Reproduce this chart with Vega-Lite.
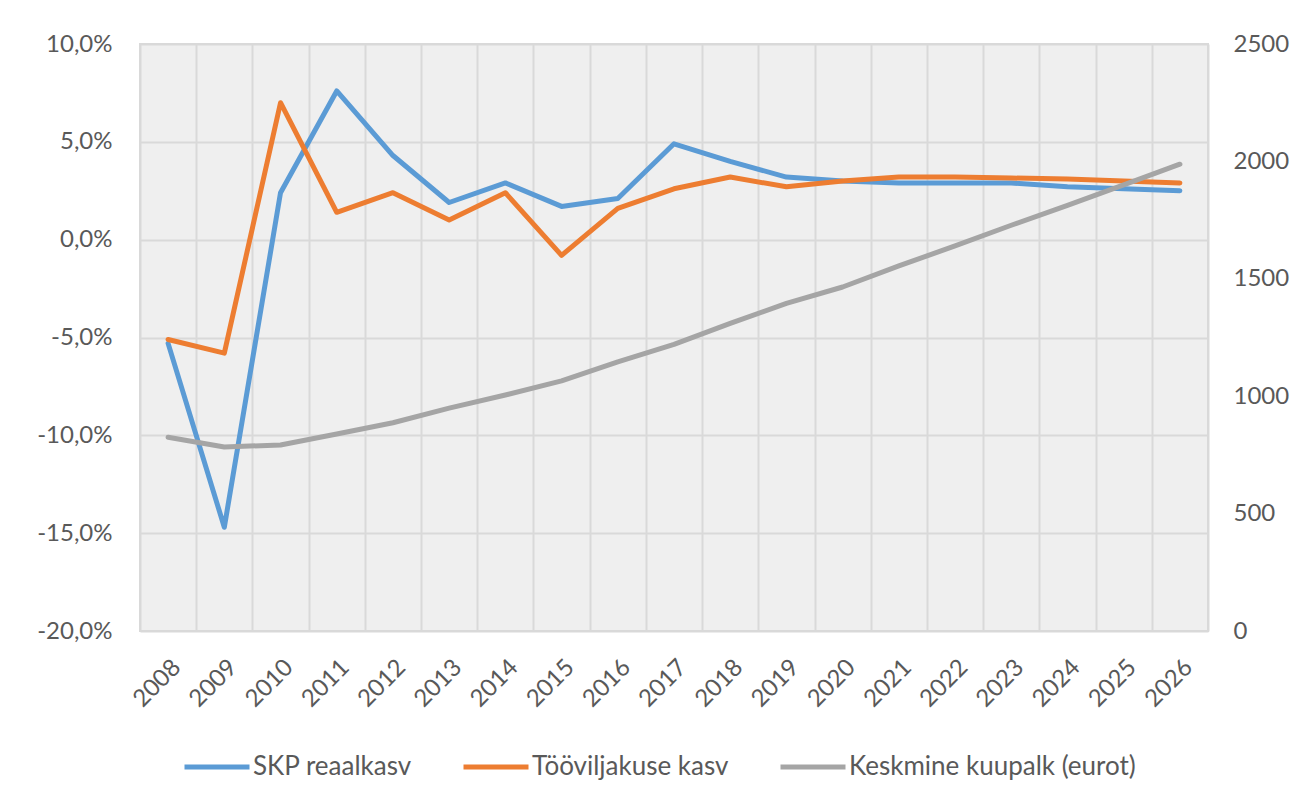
{
  "$schema": "https://vega.github.io/schema/vega-lite/v6.json",
  "width": 1068,
  "height": 587,
  "autosize": {"type": "none"},
  "padding": {"left": 140, "top": 44, "right": 89, "bottom": 173},
  "background": "white",
  "config": {
    "font": "Lato",
    "view": {"stroke": "#d9d9d9", "strokeWidth": 2, "fill": "#efefef"},
    "axis": {
      "labelFont": "Lato",
      "labelFontSize": 24,
      "labelColor": "#595959",
      "ticks": false,
      "domain": false,
      "gridColor": "#d9d9d9",
      "gridWidth": 2,
      "title": null
    }
  },
  "data": {
    "values": [
      {"year": "2008", "series": "SKP reaalkasv", "value": -5.3},
      {"year": "2009", "series": "SKP reaalkasv", "value": -14.7},
      {"year": "2010", "series": "SKP reaalkasv", "value": 2.4},
      {"year": "2011", "series": "SKP reaalkasv", "value": 7.6},
      {"year": "2012", "series": "SKP reaalkasv", "value": 4.3},
      {"year": "2013", "series": "SKP reaalkasv", "value": 1.9},
      {"year": "2014", "series": "SKP reaalkasv", "value": 2.9},
      {"year": "2015", "series": "SKP reaalkasv", "value": 1.7},
      {"year": "2016", "series": "SKP reaalkasv", "value": 2.1},
      {"year": "2017", "series": "SKP reaalkasv", "value": 4.9},
      {"year": "2018", "series": "SKP reaalkasv", "value": 4.0},
      {"year": "2019", "series": "SKP reaalkasv", "value": 3.2},
      {"year": "2020", "series": "SKP reaalkasv", "value": 3.0},
      {"year": "2021", "series": "SKP reaalkasv", "value": 2.9},
      {"year": "2022", "series": "SKP reaalkasv", "value": 2.9},
      {"year": "2023", "series": "SKP reaalkasv", "value": 2.9},
      {"year": "2024", "series": "SKP reaalkasv", "value": 2.7},
      {"year": "2025", "series": "SKP reaalkasv", "value": 2.6},
      {"year": "2026", "series": "SKP reaalkasv", "value": 2.5},
      {"year": "2008", "series": "Tööviljakuse kasv", "value": -5.1},
      {"year": "2009", "series": "Tööviljakuse kasv", "value": -5.8},
      {"year": "2010", "series": "Tööviljakuse kasv", "value": 7.0},
      {"year": "2011", "series": "Tööviljakuse kasv", "value": 1.4},
      {"year": "2012", "series": "Tööviljakuse kasv", "value": 2.4},
      {"year": "2013", "series": "Tööviljakuse kasv", "value": 1.0},
      {"year": "2014", "series": "Tööviljakuse kasv", "value": 2.4},
      {"year": "2015", "series": "Tööviljakuse kasv", "value": -0.8},
      {"year": "2016", "series": "Tööviljakuse kasv", "value": 1.6},
      {"year": "2017", "series": "Tööviljakuse kasv", "value": 2.6},
      {"year": "2018", "series": "Tööviljakuse kasv", "value": 3.2},
      {"year": "2019", "series": "Tööviljakuse kasv", "value": 2.7},
      {"year": "2020", "series": "Tööviljakuse kasv", "value": 3.0},
      {"year": "2021", "series": "Tööviljakuse kasv", "value": 3.2},
      {"year": "2022", "series": "Tööviljakuse kasv", "value": 3.2},
      {"year": "2023", "series": "Tööviljakuse kasv", "value": 3.15},
      {"year": "2024", "series": "Tööviljakuse kasv", "value": 3.1},
      {"year": "2025", "series": "Tööviljakuse kasv", "value": 3.0},
      {"year": "2026", "series": "Tööviljakuse kasv", "value": 2.9},
      {"year": "2008", "series": "Keskmine kuupalk (eurot)", "value": 825},
      {"year": "2009", "series": "Keskmine kuupalk (eurot)", "value": 784},
      {"year": "2010", "series": "Keskmine kuupalk (eurot)", "value": 792},
      {"year": "2011", "series": "Keskmine kuupalk (eurot)", "value": 839},
      {"year": "2012", "series": "Keskmine kuupalk (eurot)", "value": 887},
      {"year": "2013", "series": "Keskmine kuupalk (eurot)", "value": 949},
      {"year": "2014", "series": "Keskmine kuupalk (eurot)", "value": 1005},
      {"year": "2015", "series": "Keskmine kuupalk (eurot)", "value": 1065},
      {"year": "2016", "series": "Keskmine kuupalk (eurot)", "value": 1146},
      {"year": "2017", "series": "Keskmine kuupalk (eurot)", "value": 1221},
      {"year": "2018", "series": "Keskmine kuupalk (eurot)", "value": 1310},
      {"year": "2019", "series": "Keskmine kuupalk (eurot)", "value": 1395},
      {"year": "2020", "series": "Keskmine kuupalk (eurot)", "value": 1465},
      {"year": "2021", "series": "Keskmine kuupalk (eurot)", "value": 1555},
      {"year": "2022", "series": "Keskmine kuupalk (eurot)", "value": 1640},
      {"year": "2023", "series": "Keskmine kuupalk (eurot)", "value": 1728},
      {"year": "2024", "series": "Keskmine kuupalk (eurot)", "value": 1813},
      {"year": "2025", "series": "Keskmine kuupalk (eurot)", "value": 1900},
      {"year": "2026", "series": "Keskmine kuupalk (eurot)", "value": 1988}
    ]
  },
  "encoding": {
    "x": {
      "field": "year",
      "type": "ordinal",
      "bandPosition": 0.5,
      "scale": {"type": "band", "paddingInner": 0, "paddingOuter": 0},
      "axis": {"tickBand": "extent", "grid": true, "labelAngle": -45, "labelPadding": 24, "title": null}
    },
    "color": {
      "field": "series",
      "type": "nominal",
      "scale": {
        "domain": ["SKP reaalkasv", "Tööviljakuse kasv", "Keskmine kuupalk (eurot)"],
        "range": ["#5b9bd5", "#ed7d31", "#a5a5a5"]
      },
      "legend": {
        "orient": "none",
        "legendX": 42,
        "legendY": 688,
        "direction": "horizontal",
        "title": null,
        "symbolType": "stroke",
        "symbolSize": 4225,
        "symbolStrokeWidth": 5,
        "labelFont": "Lato",
        "labelFontSize": 26,
        "labelColor": "#595959",
        "labelLimit": 0,
        "labelOffset": 1,
        "columnPadding": 41
      }
    }
  },
  "layer": [
    {
      "encoding": {
        "y": {
          "field": "value",
          "type": "quantitative",
          "scale": {"domain": [-20, 10], "nice": false, "zero": false},
          "axis": {
            "orient": "left",
            "values": [-20, -15, -10, -5, 0, 5, 10],
            "grid": true,
            "labelPadding": 28,
            "labelExpr": "replace(replace(format(datum.value, '.1f'), '.', ','), '−', '-') + '%'"
          }
        }
      },
      "layer": [
        {
          "transform": [{"filter": "datum.series === 'SKP reaalkasv'"}],
          "mark": {"type": "line", "strokeWidth": 5, "strokeCap": "round", "strokeJoin": "round"}
        },
        {
          "transform": [{"filter": "datum.series === 'Tööviljakuse kasv'"}],
          "mark": {"type": "line", "strokeWidth": 5, "strokeCap": "round", "strokeJoin": "round"}
        }
      ]
    },
    {
      "transform": [{"filter": "datum.series === 'Keskmine kuupalk (eurot)'"}],
      "mark": {"type": "line", "strokeWidth": 5, "strokeCap": "round", "strokeJoin": "round"},
      "encoding": {
        "y": {
          "field": "value",
          "type": "quantitative",
          "scale": {"domain": [0, 2500], "nice": false},
          "axis": {
            "orient": "right",
            "values": [0, 500, 1000, 1500, 2000, 2500],
            "grid": false,
            "labelPadding": 25,
            "format": "d"
          }
        }
      }
    }
  ],
  "resolve": {"scale": {"y": "independent"}}
}
